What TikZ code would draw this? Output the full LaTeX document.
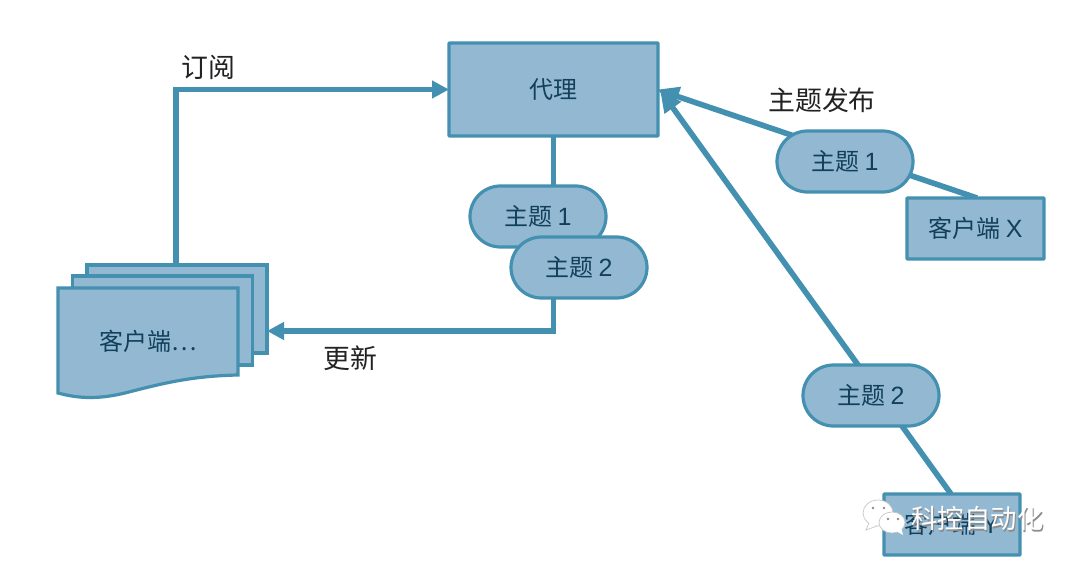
\documentclass[tikz,border=0pt]{standalone}
\usepackage{fontspec}
\setmainfont{Liberation Sans}
\newfontfamily\cjk{Noto Sans CJK SC}[Scale=0.96]
\newfontfamily\latn{Liberation Sans}
\usetikzlibrary{shapes.misc,arrows.meta,calc}
\definecolor{fillc}{HTML}{93B9D2}
\definecolor{linec}{HTML}{4490B0}
\definecolor{inkc}{HTML}{123F5C}
\definecolor{labelc}{HTML}{222222}
\tikzset{
  base/.style={draw=linec,fill=fillc,line width=3.2pt,text=inkc,font=\fontsize{25}{28}\selectfont,inner sep=0pt,outer sep=0pt},
  boxn/.style={base,rectangle,rounded corners=0.6pt},
  pill/.style={base,rounded rectangle,minimum width=136pt,minimum height=61pt,rounded rectangle arc length=180},
  sheet/.style={base,rectangle,minimum width=180pt,minimum height=88pt},
  conn/.style={draw=linec,line width=5.6pt},
  arrowconn/.style={conn,-{Triangle[length=17pt,width=17pt]}},
  heavyarrow/.style={conn,-{Triangle[length=22pt,width=19pt]}},
  lbl/.style={text=labelc,font=\fontsize{28}{30}\selectfont,inner sep=0pt},
  wmark/.style={font=\fontsize{27.5}{30}\selectfont,inner sep=0pt},
  bubble/.style={fill=white,draw=black!22,line width=0.7pt}
}
\begin{document}
\begin{tikzpicture}[x=1pt,y=-1pt]
\useasboundingbox (0,0) rectangle (1080,567);
\fill[white] (0,0) rectangle (1080,567);
\node[boxn,minimum width=209pt,minimum height=93pt] (proxy) at (553.5,89.5) {\cjk 代理};
\coordinate (clientXtop) at (977,198);
\coordinate (clientYtop) at (951,494);
\coordinate (proxyInX) at (657,89.5);
\coordinate (proxyInY) at (660,90);
\node[sheet] (docback) at (177,309) {};
\node[sheet,minimum height=89pt] (docmid) at (162.5,320.5) {};
\coordinate (subCorner) at (176,89.5);
\coordinate (updCorner) at (553.5,331);
% connectors
\draw[arrowconn] (docback.north -| subCorner) -- (subCorner) -- (proxy.west);
\draw[arrowconn] (proxy.south) -- (updCorner) -- (updCorner -| docback.east);
\draw[heavyarrow] (clientXtop) -- (proxyInX);
\draw[heavyarrow] (clientYtop) -- (proxyInY);
% front sheet
\draw[base] (58,288) -- (238,288) -- (238,375)
  .. controls (190,376) and (160,384) .. (125,393)
  .. controls (100,399) and (80,399) .. (58,393) -- cycle;
\node[text=inkc,font=\fontsize{25}{28}\selectfont,inner sep=0pt] (doctext) at (148,341) {\cjk 客户端…};
% pills and client boxes
\node[pill] (t1a) at (538,216.5) {\cjk 主题 \latn 1};
\node[pill] (t2a) at (579,267.5) {\cjk 主题 \latn 2};
\node[pill] (t1b) at (845,161.5) {\cjk 主题 \latn 1};
\node[boxn,minimum width=137pt,minimum height=61pt] (cx) at (975.5,228.5) {\cjk 客户端 \latn X};
\node[pill] (t2b) at (871,395.5) {\cjk 主题 \latn 2};
\node[boxn,minimum width=136pt,minimum height=61pt] (cy) at (952,524.5) {\cjk 客户端 \latn Y};
% labels
\node[lbl] (lsub) at (208,67) {\cjk 订阅};
\node[lbl] (lupd) at (350,358) {\cjk 更新};
\node[lbl] (lpub) at (822,100) {\cjk 主题发布};
% watermark
\draw[bubble] (878,513) ellipse (15pt and 13pt);
\draw[bubble] (869,523) -- (866,530) -- (877,526);
\draw[bubble] (892,522.5) ellipse (13pt and 10.5pt);
\fill[bubble,draw=none] (896,531) -- (903,535) -- (901,527) -- cycle;
\fill[black!45] (873,508) circle (1.3pt) (884,508) circle (1.3pt) (888,519) circle (1.3pt) (898,519) circle (1.3pt);
\node[wmark,text=black!45] (wms) at (978.5,520) {\cjk 科控自动化};
\node[wmark,text=white] (wm) at (977.5,518.5) {\cjk 科控自动化};
\end{tikzpicture}
\end{document}
